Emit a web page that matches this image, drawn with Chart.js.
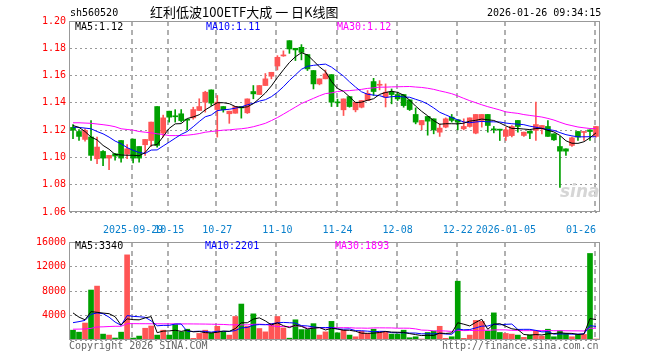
<!DOCTYPE html>
<html>
<head>
<meta charset="utf-8">
<script src="https://cdn.jsdelivr.net/npm/chart.js@4.4.1/dist/chart.umd.min.js"></script>
<style>
  body { margin: 0; background: #fff; }
  #wrap { position: relative; width: 660px; height: 360px; overflow: hidden; font-family: "DejaVu Sans Mono", monospace; font-size: 10px; }
  canvas { position: absolute; left: 0; }
  .t { position: absolute; white-space: pre; line-height: 10px; }
</style>
</head>
<body>
<div id="wrap">
  <canvas id="kChart" width="660" height="236" style="top:0"></canvas>
  <canvas id="volChart" width="660" height="128" style="top:232px"></canvas>

  <div class="t" style="left:70px;top:8px;color:#000">sh560520</div>
  <div class="t" style="left:150px;top:5px;font-family:'Noto Sans CJK SC';font-size:13px;line-height:13px;color:#000">红利低波100ETF大成 一 日K线图</div>
  <div class="t" style="left:487px;top:8px;color:#000">2026-01-26 09:34:15</div>

  <div class="t" style="left:75px;top:22px;color:#000">MA5:1.12</div>
  <div class="t" style="left:206px;top:22px;color:#0000ff">MA10:1.11</div>
  <div class="t" style="left:337px;top:22px;color:#ff00ff">MA30:1.12</div>

  <div class="t" style="left:75px;top:241px;color:#000">MA5:3340</div>
  <div class="t" style="left:205px;top:241px;color:#0000ff">MA10:2201</div>
  <div class="t" style="left:335px;top:241px;color:#ff00ff">MA30:1893</div>

  <div class="t" style="left:560px;top:183px;font-family:'DejaVu Sans';font-style:italic;font-weight:bold;font-size:17px;line-height:17px;color:#d6d6d6">sina</div>

  <div class="t" style="left:69px;top:341px;color:#666">Copyright 2026 SINA.COM</div>
  <div class="t" style="left:442px;top:341px;color:#666">http://finance.sina.com.cn</div>
</div>
<script>
// trading days shown on the chart
const dates = [
  '2025-09-15','2025-09-16','2025-09-17','2025-09-18','2025-09-19',
  '2025-09-22','2025-09-23','2025-09-24','2025-09-25','2025-09-26',
  '2025-09-29','2025-09-30','2025-10-09','2025-10-10',
  '2025-10-13','2025-10-14','2025-10-15','2025-10-16','2025-10-17',
  '2025-10-20','2025-10-21','2025-10-22','2025-10-23','2025-10-24',
  '2025-10-27','2025-10-28','2025-10-29','2025-10-30','2025-10-31',
  '2025-11-03','2025-11-04','2025-11-05','2025-11-06','2025-11-07',
  '2025-11-10','2025-11-11','2025-11-12','2025-11-13','2025-11-14',
  '2025-11-17','2025-11-18','2025-11-19','2025-11-20','2025-11-21',
  '2025-11-24','2025-11-25','2025-11-26','2025-11-27','2025-11-28',
  '2025-12-01','2025-12-02','2025-12-03','2025-12-04','2025-12-05',
  '2025-12-08','2025-12-09','2025-12-10','2025-12-11','2025-12-12',
  '2025-12-15','2025-12-16','2025-12-17','2025-12-18','2025-12-19',
  '2025-12-22','2025-12-23','2025-12-24','2025-12-25','2025-12-26',
  '2025-12-29','2025-12-30','2025-12-31',
  '2026-01-05','2026-01-06','2026-01-07','2026-01-08','2026-01-09',
  '2026-01-12','2026-01-13','2026-01-14','2026-01-15','2026-01-16',
  '2026-01-19','2026-01-20','2026-01-21','2026-01-22','2026-01-23',
  '2026-01-26'
];

const opens = [
  1.1220,1.1190,1.1132,1.1150,1.0990,1.1044,1.0995,1.1027,1.1124,1.1025,
  1.1134,1.1080,1.1093,1.1124,1.1373,1.1178,1.1339,1.1302,1.1320,1.1276,
  1.1290,1.1344,1.1405,1.1495,1.1351,1.1373,1.1320,1.1324,1.1373,1.1327,
  1.1483,1.1461,1.1527,1.1595,1.1670,1.1744,1.1856,1.1800,1.1807,1.1754,
  1.1637,1.1539,1.1576,1.1607,1.1405,1.1349,1.1446,1.1349,1.1368,1.1417,
  1.1556,1.1529,1.1441,1.1478,1.1461,1.1461,1.1422,1.1315,1.1239,1.1300,
  1.1283,1.1185,1.1222,1.1295,1.1276,1.1210,1.1227,1.1178,1.1271,1.1315,
  1.1205,1.1207,1.1154,1.1160,1.1271,1.1161,1.1193,1.1198,1.1210,1.1227,
  1.1173,1.1080,1.1063,1.1088,1.1190,1.1183,1.1202,1.1154
];
const highs = [
  1.1240,1.1205,1.1210,1.1271,1.1149,1.1050,1.1015,1.1030,1.1124,1.1095,
  1.1134,1.1080,1.1132,1.1259,1.1373,1.1310,1.1339,1.1350,1.1351,1.1280,
  1.1368,1.1430,1.1485,1.1495,1.1454,1.1373,1.1339,1.1373,1.1373,1.1429,
  1.1527,1.1527,1.1615,1.1624,1.1746,1.1781,1.1856,1.1800,1.1827,1.1754,
  1.1637,1.1576,1.1641,1.1607,1.1427,1.1429,1.1446,1.1405,1.1417,1.1490,
  1.1580,1.1563,1.1539,1.1502,1.1478,1.1461,1.1422,1.1363,1.1271,1.1300,
  1.1283,1.1246,1.1290,1.1315,1.1276,1.1283,1.1290,1.1315,1.1315,1.1315,
  1.1227,1.1207,1.1222,1.1234,1.1271,1.1185,1.1193,1.1405,1.1234,1.1271,
  1.1173,1.1154,1.1063,1.1149,1.1190,1.1190,1.1202,1.1227
];
const lows = [
  1.1137,1.1125,1.1120,1.0978,1.0954,1.0940,1.0910,1.0980,1.0966,1.0990,
  1.0960,1.0966,1.1015,1.1080,1.1076,1.1150,1.1259,1.1259,1.1260,1.1203,
  1.1280,1.1344,1.1332,1.1380,1.1149,1.1332,1.1250,1.1324,1.1288,1.1322,
  1.1430,1.1461,1.1527,1.1576,1.1641,1.1741,1.1763,1.1710,1.1715,1.1637,
  1.1502,1.1532,1.1576,1.1373,1.1373,1.1307,1.1368,1.1334,1.1363,1.1417,
  1.1454,1.1495,1.1370,1.1393,1.1417,1.1368,1.1344,1.1246,1.1202,1.1163,
  1.1173,1.1154,1.1217,1.1259,1.1202,1.1202,1.1222,1.1173,1.1222,1.1185,
  1.1180,1.1124,1.1124,1.1150,1.1185,1.1154,1.1137,1.1124,1.1173,1.1154,
  1.1124,1.0780,1.1015,1.1080,1.1124,1.1124,1.1124,1.1149
];
const closes = [
  1.1200,1.1154,1.1198,1.1015,1.1076,1.0995,1.1015,1.1010,1.0995,1.1063,
  1.0995,1.0995,1.1132,1.1259,1.1088,1.1290,1.1295,1.1298,1.1270,1.1273,
  1.1351,1.1373,1.1478,1.1398,1.1405,1.1349,1.1339,1.1373,1.1363,1.1429,
  1.1466,1.1527,1.1576,1.1624,1.1734,1.1751,1.1795,1.1788,1.1770,1.1649,
  1.1539,1.1576,1.1612,1.1405,1.1400,1.1429,1.1373,1.1405,1.1417,1.1470,
  1.1483,1.1534,1.1478,1.1461,1.1429,1.1380,1.1351,1.1259,1.1271,1.1266,
  1.1202,1.1215,1.1283,1.1271,1.1259,1.1227,1.1290,1.1315,1.1315,1.1234,
  1.1202,1.1200,1.1202,1.1227,1.1227,1.1185,1.1178,1.1241,1.1234,1.1154,
  1.1129,1.1046,1.1046,1.1144,1.1149,1.1190,1.1190,1.1227
];

const ma5 = [
  1.1234,1.1220,1.1190,1.1149,1.1129,1.1088,1.1060,1.1022,1.1018,1.1016,
  1.1016,1.1012,1.1036,1.1089,1.1094,1.1153,1.1213,1.1246,1.1248,1.1285,
  1.1297,1.1313,1.1349,1.1375,1.1401,1.1401,1.1394,1.1373,1.1366,1.1371,
  1.1394,1.1432,1.1472,1.1524,1.1585,1.1642,1.1696,1.1738,1.1768,1.1751,
  1.1708,1.1664,1.1629,1.1556,1.1506,1.1484,1.1444,1.1402,1.1405,1.1419,
  1.1430,1.1462,1.1476,1.1485,1.1477,1.1456,1.1420,1.1376,1.1338,1.1305,
  1.1270,1.1243,1.1247,1.1247,1.1246,1.1251,1.1266,1.1272,1.1281,1.1276,
  1.1271,1.1253,1.1231,1.1213,1.1212,1.1208,1.1204,1.1212,1.1213,1.1198,
  1.1187,1.1161,1.1122,1.1104,1.1103,1.1115,1.1144,1.1180
];
const ma10 = [
  1.1222,1.1220,1.1215,1.1210,1.1190,1.1173,1.1149,1.1120,1.1100,1.1072,
  1.1052,1.1036,1.1029,1.1054,1.1055,1.1084,1.1112,1.1141,1.1169,1.1190,
  1.1225,1.1263,1.1298,1.1311,1.1343,1.1349,1.1353,1.1361,1.1370,1.1386,
  1.1397,1.1413,1.1423,1.1445,1.1478,1.1518,1.1564,1.1605,1.1646,1.1668,
  1.1675,1.1680,1.1684,1.1662,1.1629,1.1596,1.1554,1.1516,1.1481,1.1463,
  1.1457,1.1453,1.1439,1.1445,1.1448,1.1443,1.1441,1.1426,1.1412,1.1391,
  1.1363,1.1331,1.1312,1.1293,1.1276,1.1260,1.1254,1.1260,1.1264,1.1261,
  1.1261,1.1260,1.1252,1.1247,1.1244,1.1240,1.1229,1.1221,1.1213,1.1205,
  1.1198,1.1182,1.1167,1.1158,1.1151,1.1151,1.1152,1.1151
];
const ma30 = [
  1.1254,1.1254,1.1252,1.1250,1.1245,1.1240,1.1234,1.1225,1.1210,1.1205,
  1.1200,1.1190,1.1185,1.1180,1.1173,1.1168,1.1160,1.1160,1.1160,1.1163,
  1.1168,1.1175,1.1185,1.1190,1.1195,1.1200,1.1202,1.1207,1.1210,1.1216,
  1.1225,1.1237,1.1250,1.1270,1.1292,1.1317,1.1343,1.1369,1.1395,1.1414,
  1.1433,1.1452,1.1468,1.1473,1.1483,1.1488,1.1490,1.1494,1.1499,1.1506,
  1.1510,1.1515,1.1515,1.1517,1.1518,1.1519,1.1520,1.1516,1.1513,1.1507,
  1.1499,1.1488,1.1478,1.1467,1.1451,1.1433,1.1416,1.1401,1.1386,1.1372,
  1.1360,1.1348,1.1334,1.1328,1.1323,1.1314,1.1308,1.1302,1.1296,1.1286,
  1.1274,1.1258,1.1243,1.1233,1.1223,1.1217,1.1212,1.1211
];

const volumes = [
  1600,1280,2770,8160,8800,960,800,320,1280,13900,
  320,640,1920,2290,800,1600,800,2500,1330,1760,
  270,1070,1600,1100,2240,1330,800,3840,5870,2240,
  4270,1870,1330,2670,3840,1970,300,3300,1700,1700,
  2670,800,1330,3040,1170,1600,800,530,1440,1070,
  1760,1330,1330,960,960,1600,370,530,160,1230,
  1440,2240,270,530,9600,270,800,3200,3040,1440,
  4430,1230,1070,960,800,430,800,1440,640,1760,
  530,1490,1070,530,910,910,14130,160
];
const volMa5 = [
  4420,3730,3300,4640,4522,4394,4298,3808,2432,3452,
  3324,3292,3612,3814,1194,1450,1482,1598,1406,1598,
  1332,1386,1206,1160,1256,1468,1414,1862,2816,2816,
  3404,3618,3116,2476,2796,2336,2022,2416,2222,1794,
  1934,2034,1640,1908,1802,1588,1588,1428,1108,1088,
  1120,1226,1386,1290,1268,1236,1044,884,724,778,
  746,1120,1068,1142,2816,2582,2294,2880,3382,1750,
  2582,2668,2242,1826,1698,898,812,886,822,1014,
  1034,1172,1098,1076,906,982,3510,3328
];
const volMa10 = [
  2830,3000,3200,4200,4420,4300,3730,2930,2400,3987,
  3859,3795,3710,3123,2323,2387,2387,2605,2610,1396,
  1391,1434,1402,1283,1427,1400,1400,1534,1988,2036,
  2436,2516,2489,2646,2806,2870,2820,2766,2349,2295,
  2135,2028,2028,2065,1798,1761,1811,1534,1508,1445,
  1354,1407,1407,1199,1178,1178,1135,1135,1007,1023,
  991,1082,976,933,1797,1664,1707,1974,2262,2283,
  2582,2481,2561,2604,1724,1740,1740,1564,1324,1356,
  966,992,992,949,960,1008,2341,2213
];
const volMa30 = [
  1760,1780,1800,1900,2130,2150,2200,2240,2240,2670,
  2670,2660,2660,2650,2650,2640,2640,2640,2630,2630,
  2620,2610,2600,2580,2560,2540,2480,2480,2470,2473,
  2562,2582,2534,2351,2185,2219,2202,2302,2316,1909,
  1987,1993,1973,1998,2010,2010,2010,1945,1948,1925,
  1975,1984,1975,1970,1927,1936,1922,1812,1621,1588,
  1493,1506,1470,1399,1591,1534,1551,1548,1592,1584,
  1642,1657,1648,1579,1566,1527,1527,1558,1531,1554,
  1513,1518,1510,1495,1494,1471,1929,1917
];

// dates that get a dashed grid line and a label on the x axis
const tickDates  = ['2025-09-29','2025-10-15','2025-10-27','2025-11-10','2025-11-24','2025-12-08','2025-12-22','2026-01-05','2026-01-26'];
const tickLabels = ['2025-09-29','10-15','10-27','11-10','11-24','12-08','12-22','2026-01-05','01-26     '];
const priceTicks = [1.06, 1.08, 1.10, 1.12, 1.14, 1.16, 1.18, 1.20];
const volTicks = [0, 4000, 8000, 12000, 16000];

const upColor = '#ff5555';
const downColor = '#00a000';
const candleColors = closes.map((c, i) => c >= opens[i] ? upColor : downColor);
const tickIndex = tickDates.map(d => dates.indexOf(d));

const monoFont = { family: 'DejaVu Sans Mono', size: 10 };

// dashed date lines and the gray frame round the plot area
const frame = {
  id: 'frame',
  beforeDatasetsDraw(chart) {
    const a = chart.chartArea, ctx = chart.ctx, xs = chart.scales.x;
    ctx.save();
    ctx.strokeStyle = '#b0b0b0';
    ctx.lineWidth = 2;
    ctx.setLineDash([5, 4]);
    for (const i of tickIndex) {
      const x = Math.round(xs.getPixelForValue(i)) - 1;
      ctx.beginPath();
      ctx.moveTo(x, a.top);
      ctx.lineTo(x, a.bottom);
      ctx.stroke();
    }
    ctx.restore();
  },
  afterDatasetsDraw(chart) {
    const a = chart.chartArea, ctx = chart.ctx;
    ctx.save();
    ctx.strokeStyle = '#999';
    ctx.lineWidth = 1;
    ctx.strokeRect(Math.round(a.left) - 0.5, Math.round(a.top) + 0.5, Math.round(a.right - a.left) + 1, Math.round(a.bottom - a.top) - 1);
    ctx.restore();
  }
};

function maLine(data, color) {
  return { type: 'line', data: data, borderColor: color, borderWidth: 1, pointRadius: 0, tension: 0, order: 0 };
}

function xScale(showLabels, h) {
  return {
    offset: true,
    grid: { display: false },
    border: { display: false },
    ticks: {
      display: showLabels, autoSkip: false, maxRotation: 0, padding: 4,
      color: '#0a80cc', font: monoFont,
      callback: (v, i) => { const k = tickIndex.indexOf(i); return k >= 0 ? tickLabels[k] : ''; }
    },
    afterFit: s => { s.height = h; }
  };
}

function yScale(ticks, fmt) {
  return {
    min: ticks[0], max: ticks[ticks.length - 1],
    afterBuildTicks: s => { s.ticks = ticks.map(v => ({ value: v })); },
    grid: { drawTicks: false, color: '#999', lineWidth: 1 },
    border: { display: false, dash: [2, 3] },
    ticks: { color: '#ff0000', font: monoFont, padding: 4, callback: fmt },
    afterFit: s => { s.width = 70; }
  };
}

const common = {
  responsive: false,
  animation: false,
  devicePixelRatio: 1,
  events: [],
  plugins: { legend: { display: false }, tooltip: { enabled: false } }
};

new Chart(document.getElementById('kChart'), {
  type: 'bar',
  data: {
    labels: dates,
    datasets: [
      maLine(ma5, '#000000'),
      maLine(ma10, '#0000ff'),
      maLine(ma30, '#ff00ff'),
      { data: opens.map((o, i) => [o, closes[i]]), backgroundColor: candleColors, barThickness: 5, minBarLength: 1, grouped: false, order: 2 },
      { data: lows.map((l, i) => [l, highs[i]]), backgroundColor: candleColors, barThickness: 1, grouped: false, order: 3 }
    ]
  },
  options: Object.assign({}, common, {
    layout: { padding: { left: 0, right: 61, top: 21, bottom: 0 } },
    scales: {
      x: xScale(true, 24),
      y: yScale(priceTicks, v => v.toFixed(2))
    }
  }),
  plugins: [frame]
});

new Chart(document.getElementById('volChart'), {
  type: 'bar',
  data: {
    labels: dates,
    datasets: [
      maLine(volMa5, '#000000'),
      maLine(volMa10, '#0000ff'),
      maLine(volMa30, '#ff00ff'),
      { data: volumes, backgroundColor: candleColors, barThickness: 5, grouped: false, order: 2 }
    ]
  },
  options: Object.assign({}, common, {
    layout: { padding: { left: 0, right: 61, top: 8, bottom: 0 } },
    scales: {
      x: xScale(false, 20),
      y: yScale(volTicks, v => v === 0 ? '' : String(v))
    }
  }),
  plugins: [frame]
});
</script>
</body>
</html>
